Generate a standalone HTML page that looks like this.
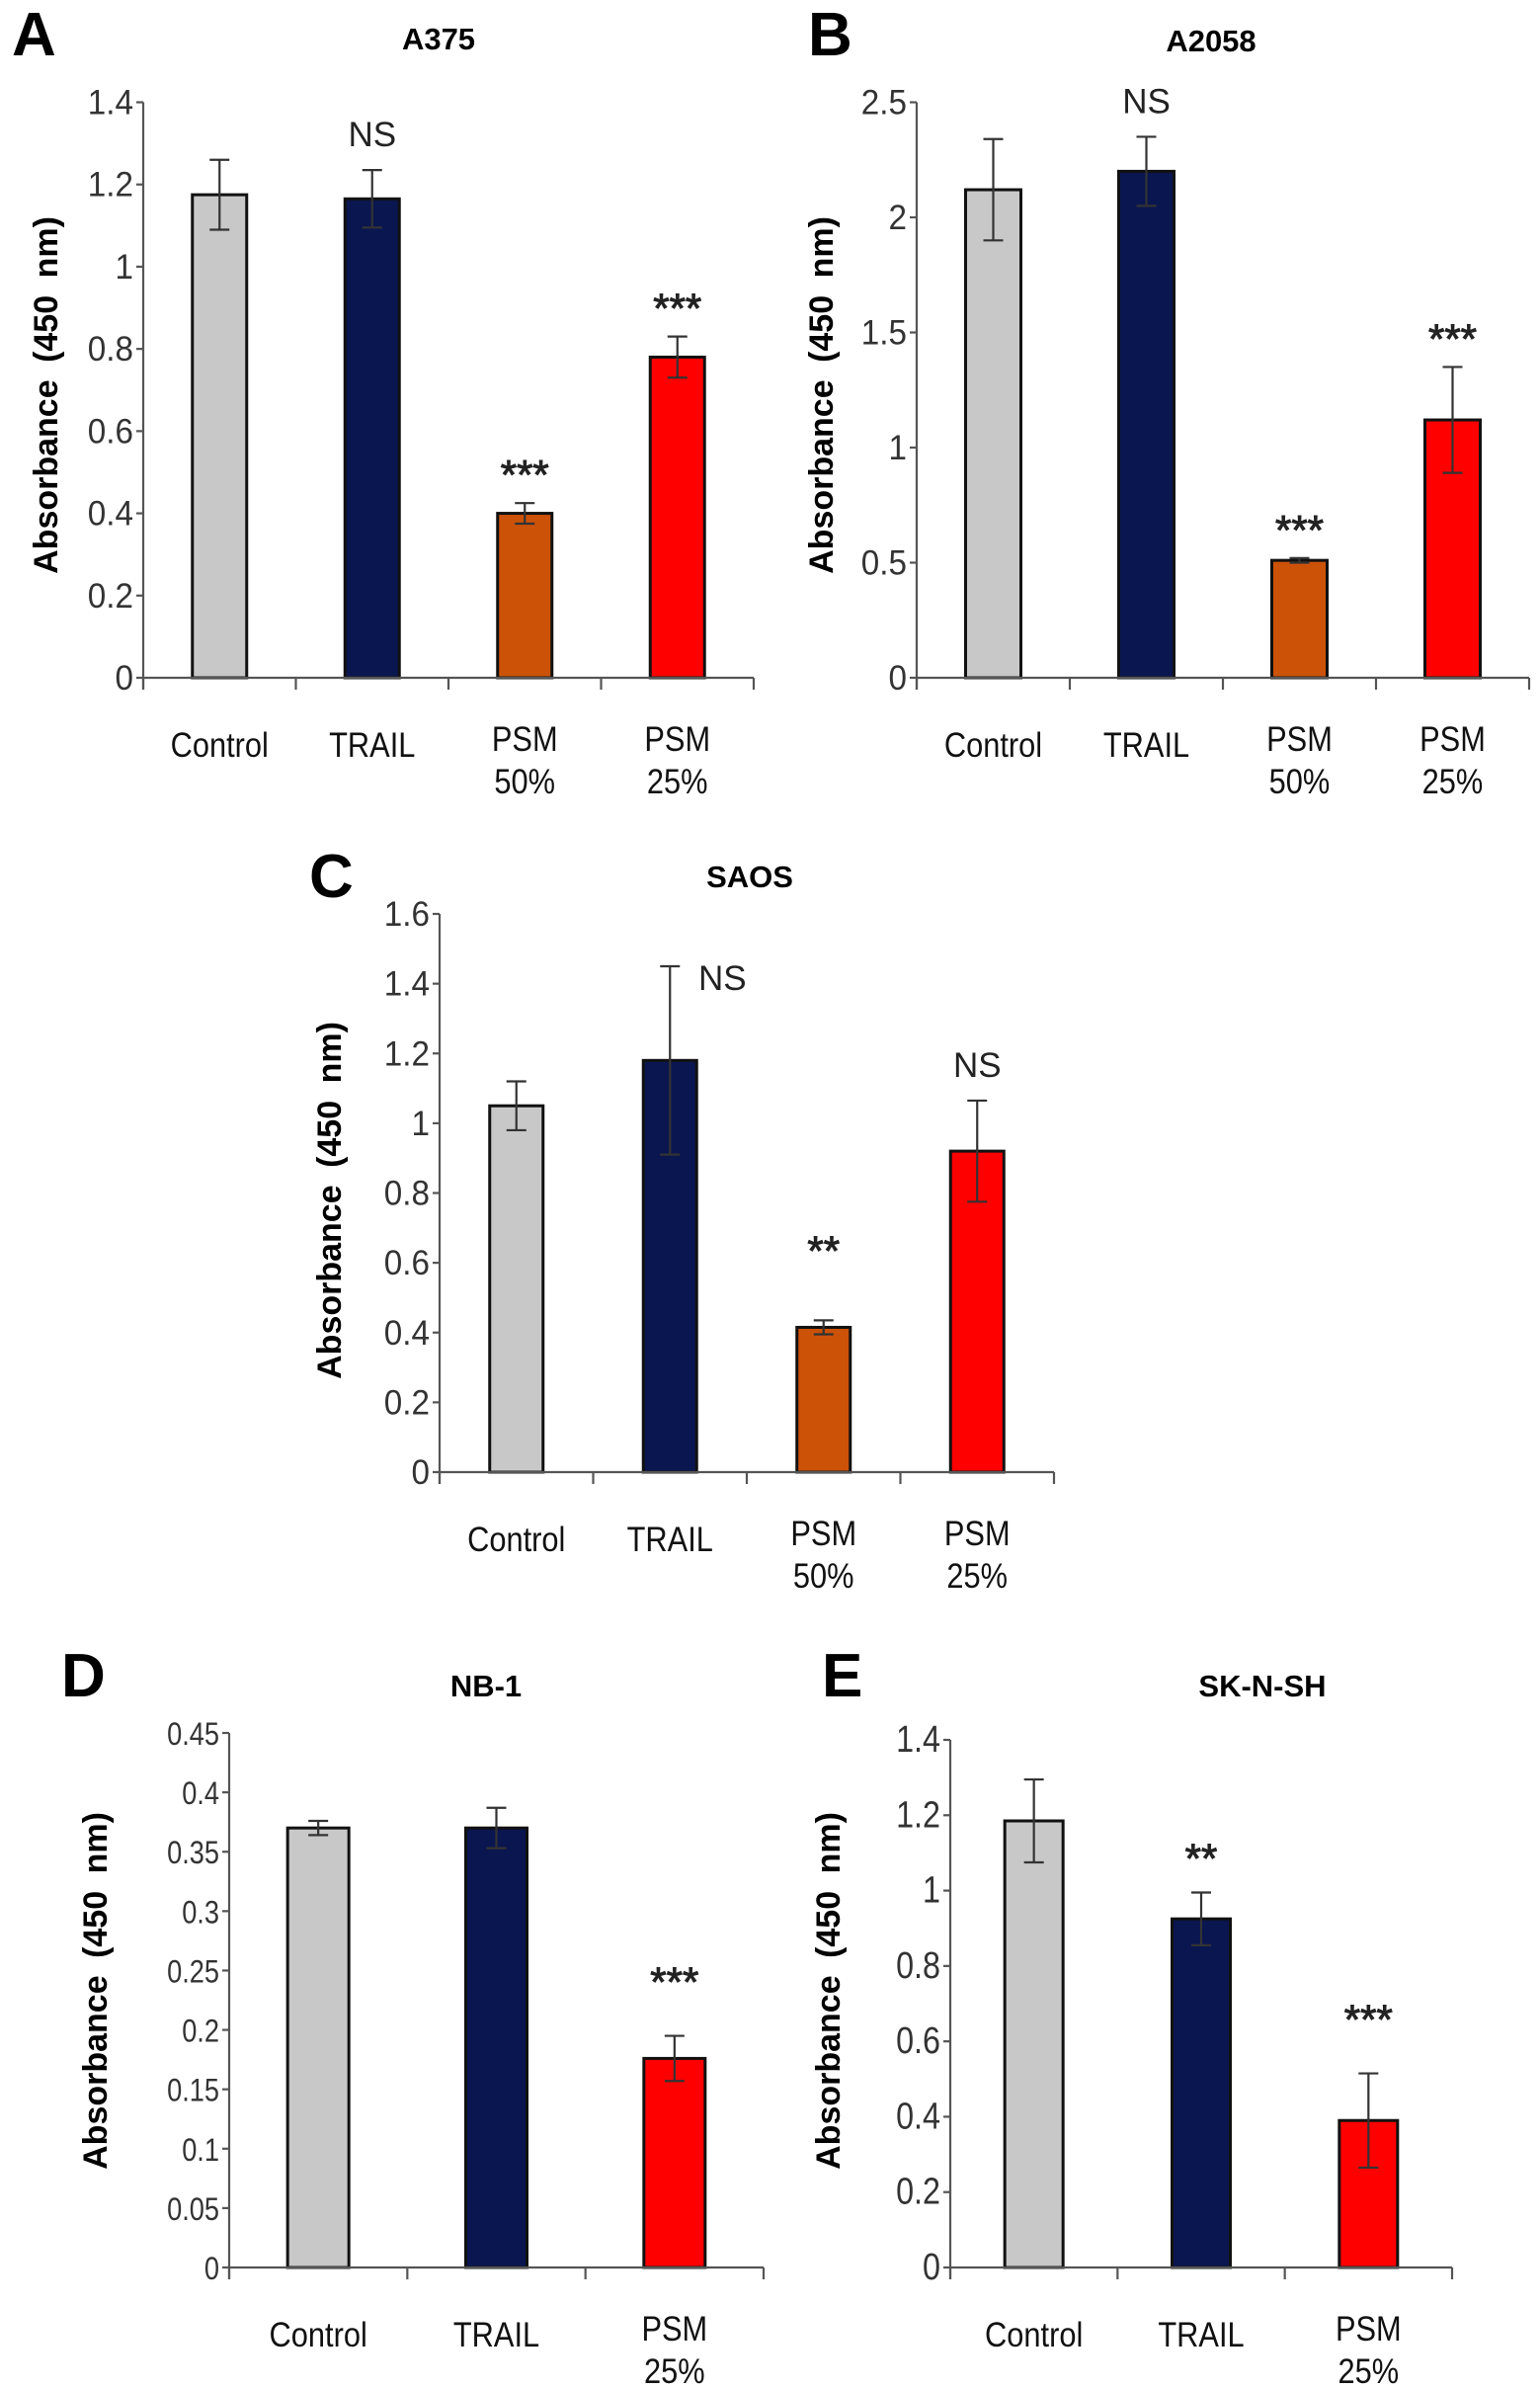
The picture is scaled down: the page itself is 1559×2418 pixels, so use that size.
<!DOCTYPE html>
<html><head><meta charset="utf-8">
<style>
html,body{margin:0;padding:0;background:#fff;}
svg{display:block;}
text{font-family:"Liberation Sans",Arial,sans-serif;}
</style></head>
<body>
<svg id="fig" width="1559" height="2418" viewBox="0 0 1559 2418" xmlns="http://www.w3.org/2000/svg"></svg>
<script>
// ---- Data arrays ----
const catsA = ["Control","TRAIL","PSM|50%","PSM|25%"];
const valsA = [1.175, 1.165, 0.40, 0.78];
const errsA = [0.085, 0.07, 0.025, 0.05];
const sigA = ["", "NS", "***", "***"];
const ticksA = ["0","0.2","0.4","0.6","0.8","1","1.2","1.4"];

const catsB = ["Control","TRAIL","PSM|50%","PSM|25%"];
const valsB = [2.12, 2.20, 0.51, 1.12];
const errsB = [0.22, 0.15, 0.01, 0.23];
const sigB = ["", "NS", "***", "***"];
const ticksB = ["0","0.5","1","1.5","2","2.5"];

const catsC = ["Control","TRAIL","PSM|50%","PSM|25%"];
const valsC = [1.05, 1.18, 0.415, 0.92];
const errsC = [0.07, 0.27, 0.02, 0.145];
const sigC = ["", "NS", "**", "NS"];
const ticksC = ["0","0.2","0.4","0.6","0.8","1","1.2","1.4","1.6"];

const catsD = ["Control","TRAIL","PSM|25%"];
const valsD = [0.37, 0.37, 0.176];
const errsD = [0.006, 0.017, 0.019];
const sigD = ["", "", "***"];
const ticksD = ["0","0.05","0.1","0.15","0.2","0.25","0.3","0.35","0.4","0.45"];

const catsE = ["Control","TRAIL","PSM|25%"];
const valsE = [1.185, 0.925, 0.39];
const errsE = [0.11, 0.07, 0.125];
const sigE = ["", "**", "***"];
const ticksE = ["0","0.2","0.4","0.6","0.8","1","1.2","1.4"];

const colors4 = ["#c8c8c8","#0a1650","#cc5208","#ff0000"];
const colors3 = ["#c8c8c8","#0a1650","#ff0000"];

const NS = "http://www.w3.org/2000/svg";
const svg = document.getElementById('fig');
function el(tag, attrs, parent){
  const e = document.createElementNS(NS, tag);
  for (const k in attrs) e.setAttribute(k, attrs[k]);
  (parent||svg).appendChild(e);
  return e;
}

function panel(cfg){
  const g = el('g', {});
  
  
  const ymax = parseFloat(cfg.ticks[cfg.ticks.length-1]);
  const y = v => cfg.y0 - (v/ymax)*(cfg.y0 - cfg.yTop);
  const n = cfg.cats.length;
  const band = (cfg.xEnd - cfg.xAxis)/n;
  const cx = i => cfg.xAxis + band*(i+0.5);

  const L = el('text', {x:cfg.letterX, y:cfg.letterY, 'font-size':62, 'font-weight':'bold', fill:'#000'}, g);
  L.textContent = cfg.letter;
  
  
  const T = el('text', {x:cfg.titleX, y:cfg.titleY, 'font-size':31, 'font-weight':'bold', 'text-anchor':'middle', fill:'#000'}, g);
  T.textContent = cfg.title;
  
  
  const YT = el('text', {x:0, y:0, 'font-size':34, 'font-weight':'bold', 'text-anchor':'middle', fill:'#000',
    transform:`translate(${cfg.ytX},${cfg.ytY}) rotate(-90)`, 'word-spacing':'8'}, g);
  YT.textContent = "Absorbance (450 nm)";
  
  

  cfg.vals.forEach((v,i)=>{
    const w = cfg.barW;
    const r = el('rect', {x:cx(i)-w/2, y:y(v), width:w, height:cfg.y0-y(v), fill:cfg.colors[i], stroke:'#111', 'stroke-width':3}, g);
    
    
    const e = cfg.errs[i];
    const eg = el('g', {stroke:'#333', 'stroke-width':2.2}, g);
    
    
    el('line', {x1:cx(i), x2:cx(i), y1:y(v+e), y2:y(v-e)}, eg);
    el('line', {x1:cx(i)-10, x2:cx(i)+10, y1:y(v+e), y2:y(v+e)}, eg);
    el('line', {x1:cx(i)-10, x2:cx(i)+10, y1:y(v-e), y2:y(v-e)}, eg);
    if (cfg.sig[i]) {
      const isStar = cfg.sig[i].indexOf('*')>=0;
      const off = cfg.sigOff ? cfg.sigOff[i] : [0, 0];
      const s = el('text', {x:cx(i)+off[0], y:y(v+e)-(isStar?14:24)+off[1], 'font-size': isStar?42:35,
        'text-anchor':'middle', fill:'#222', stroke: isStar?'#222':'none', 'stroke-width': isStar?1:0}, g);
      s.textContent = cfg.sig[i];
      
      
    }
  });

  const ax = el('g', {stroke:'#555', 'stroke-width':2.2, fill:'none'}, g);
  
  
  el('line', {x1:cfg.xAxis, x2:cfg.xAxis, y1:cfg.yTop, y2:cfg.y0+12}, ax);
  el('line', {x1:cfg.xAxis, x2:cfg.xEnd, y1:cfg.y0, y2:cfg.y0}, ax);
  for (let i=0;i<=n;i++){
    const xx = cfg.xAxis + band*i;
    el('line', {x1:xx, x2:xx, y1:cfg.y0, y2:cfg.y0+12}, ax);
  }
  cfg.ticks.forEach(t=>{
    const v = parseFloat(t);
    el('line', {x1:cfg.xAxis-7, x2:cfg.xAxis, y1:y(v), y2:y(v)}, ax);
    const tl = el('text', {x:0, y:0, 'font-size':cfg.tickFs||35, 'text-anchor':'end', fill:'#333',
      transform:`translate(${cfg.xAxis-10},${y(v)+12}) scale(${cfg.tickSx||0.95},1)`}, g);
    tl.textContent = t;
    
    
  });
  cfg.cats.forEach((c,i)=>{
    const parts = c.split('|');
    const lx = cx(i);
    if (parts.length===1){
      const t = el('text', {x:0, y:0, 'font-size':35, 'text-anchor':'middle', fill:'#111',
        transform:`translate(${lx},${cfg.y0+80}) scale(0.88,1)`}, g);
      t.textContent = parts[0];
      
      
    } else {
      const t = el('text', {x:0, y:0, 'font-size':35, 'text-anchor':'middle', fill:'#111',
        transform:`translate(${lx},${cfg.y0+74}) scale(0.88,1)`}, g);
      t.textContent = parts[0];
      
      
      const t2 = el('text', {x:0, y:0, 'font-size':35, 'text-anchor':'middle', fill:'#111',
        transform:`translate(${lx},${cfg.y0+117}) scale(0.88,1)`}, g);
      t2.textContent = parts[1];
      
      
    }
  });
}

panel({name:'panel-a-a375', letter:'A', letterX:12, letterY:56, title:'A375', titleX:444, titleY:50,
  xAxis:145, xEnd:763, y0:686, yTop:103.5, ytX:58, ytY:400, barW:55,
  cats:catsA, vals:valsA, errs:errsA, sig:sigA, ticks:ticksA, colors:colors4});
panel({name:'panel-b-a2058', letter:'B', letterX:818, letterY:56, title:'A2058', titleX:1226, titleY:52,
  xAxis:928, xEnd:1548, y0:686, yTop:103.5, ytX:843, ytY:400, barW:56,
  cats:catsB, vals:valsB, errs:errsB, sig:sigB, ticks:ticksB, colors:colors4});
panel({name:'panel-c-saos', letter:'C', letterX:313, letterY:908, title:'SAOS', titleX:759, titleY:898,
  xAxis:445, xEnd:1067, y0:1490, yTop:925, ytX:345, ytY:1215, barW:54,
  cats:catsC, vals:valsC, errs:errsC, sig:sigC, ticks:ticksC, colors:colors4,
  sigOff:[[0,0],[53,48],[0,-42],[0,0]]});
panel({name:'panel-d-nb1', letter:'D', letterX:62, letterY:1717, title:'NB-1', titleX:492, titleY:1717,
  xAxis:232, xEnd:773, y0:2295, yTop:1754, ytX:108, ytY:2015, barW:62, tickFs:32, tickSx:0.85,
  cats:catsD, vals:valsD, errs:errsD, sig:sigD, ticks:ticksD, colors:colors3, sigOff:[[0,0],[0,0],[0,-26]]});
panel({name:'panel-e-sk-n-sh', letter:'E', letterX:832, letterY:1717, title:'SK-N-SH', titleX:1278, titleY:1717,
  xAxis:962, xEnd:1470, y0:2295, yTop:1761, ytX:850, ytY:2015, barW:59, tickFs:38, tickSx:0.85,
  cats:catsE, vals:valsE, errs:errsE, sig:sigE, ticks:ticksE, colors:colors3, sigOff:[[0,0],[0,-6],[0,-26]]});
</script>
</body></html>
